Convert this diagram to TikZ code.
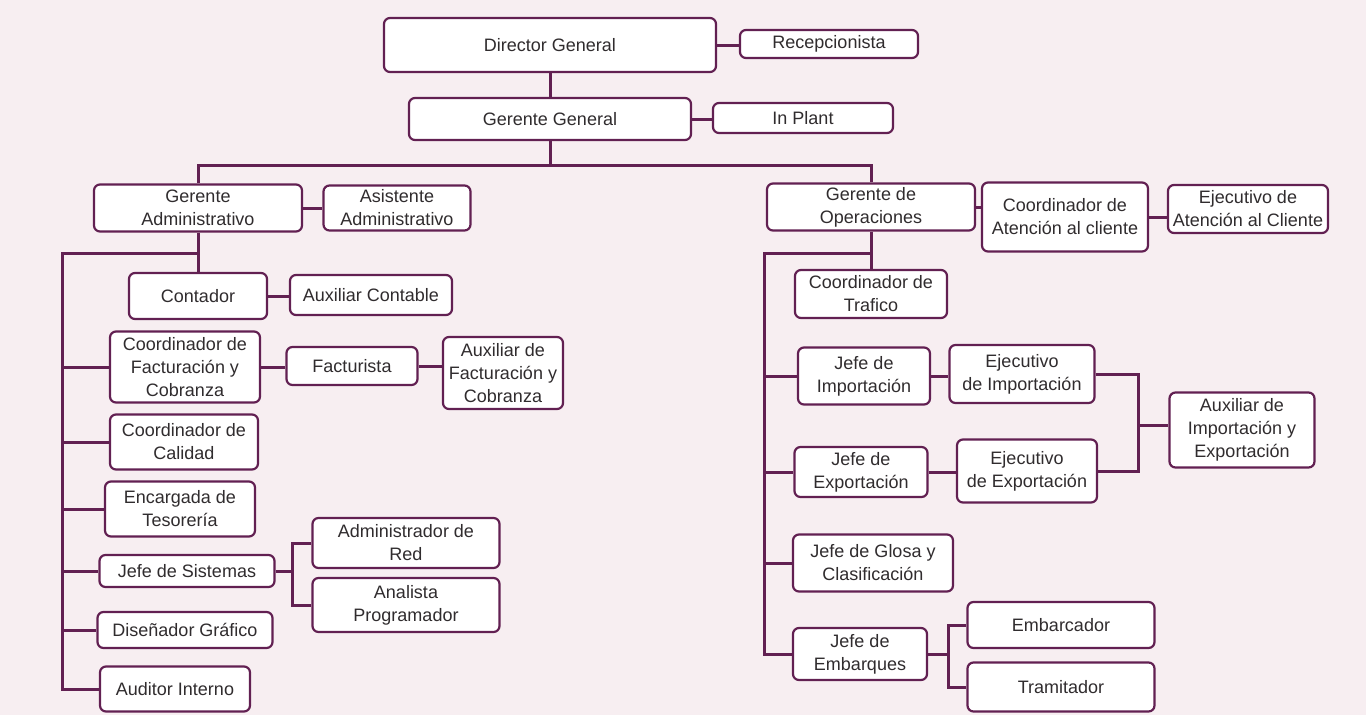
\documentclass[tikz,border=0pt]{standalone}
\usepackage{fontspec}
\setmainfont{Liberation Sans}
\usepackage{tikz}
\usetikzlibrary{positioning}

\definecolor{plum}{RGB}{98,32,82}
\definecolor{paper}{RGB}{247,238,241}
\definecolor{ink}{RGB}{48,44,46}

\begin{document}
\begin{tikzpicture}[x=1pt, y=-1pt,
  pbox/.style={draw=plum, line width=2.2pt, rounded corners=6pt, fill=white,
    align=center, text=ink, inner sep=2pt,
    font=\fontsize{18}{23}\selectfont},
  link/.style={draw=plum, line width=3pt},
]
  % Page background
  \fill[paper] (0,0) rectangle (1366,715);
  \useasboundingbox (0,0) rectangle (1366,715);

  % Boxes: name, centre x, centre y, width, height, text.
  \foreach \n/\x/\y/\w/\h/\t in {
      dg/550/45/332/54/{Director General},
      rec/829/44/178/28/{Recepcionista},
      gg/550/119/282/42/{Gerente General},
      inp/803/118/180/30/{In Plant},
      gadm/198/208/208/47/{Gerente\\Administrativo},
      asis/397/208/147/45/{Asistente\\Administrativo},
      gop/871/207/208/47/{Gerente de\\Operaciones},
      catc/1065/217/166/69/{Coordinador de\\Atención al cliente},
      eatc/1248/209/160/48/{Ejecutivo de\\Atención al Cliente},
      cont/198/296/138/46/{Contador},
      auxc/371/295/162/40/{Auxiliar Contable},
      cfac/185/367/150/71/{Coordinador de\\Facturación y\\Cobranza},
      fact/352/366/131/38/{Facturista},
      afac/503/373/120/72/{Auxiliar de\\Facturación y\\Cobranza},
      ccal/184/442/148/55/{Coordinador de\\Calidad},
      etes/180/509/150/55/{Encargada de\\Tesorería},
      jsis/187/571/175/32/{Jefe de Sistemas},
      ared/406/543/187/50/{Administrador de\\Red},
      apro/406/605/187/54/{Analista\\Programador},
      dgra/185/630/175/36/{Diseñador Gráfico},
      audi/175/689/150/45/{Auditor Interno},
      ctra/871/294/152/48/{Coordinador de\\Trafico},
      jimp/864/376/132/57/{Jefe de\\Importación},
      eimp/1022/374/145/58/{Ejecutivo\\de Importación},
      aiex/1242/430/145/75/{Auxiliar de\\Importación y\\Exportación},
      jexp/861/472/133/50/{Jefe de\\Exportación},
      eexp/1027/471/140/63/{Ejecutivo\\de Exportación},
      jglo/873/563/160/57/{Jefe de Glosa y\\Clasificación},
      jemb/860/654/134/52/{Jefe de\\Embarques},
      emba/1061/625/187/46/{Embarcador},
      tram/1061/687/187/49/{Tramitador}} {
    \node[pbox, minimum width=\w, minimum height=\h] (\n) at (\x,\y) {\t};
  }

  % Junction points
  \coordinate (bus) at (550,165);
  \coordinate (ltop) at (62,253);
  \coordinate (rtop) at (764,253);
  \coordinate (sisj) at (292,571);
  \coordinate (iej) at (1138,425);
  \coordinate (embj) at (948,654);

  % Top of the chart
  \draw[link] (dg.east) -- (dg.east -| rec.west);
  \draw[link] (dg.south) -- (gg.north);
  \draw[link] (gg.east) -- (gg.east -| inp.west);
  \draw[link] (gg.south) -- (bus);
  \draw[link] (gadm.north) |- (bus) -| (gop.north);
  \draw[link] (gadm.east) -- (gadm.east -| asis.west);
  \draw[link] (gop.east) -- (gop.east -| catc.west);
  \draw[link] (catc.east) -- (catc.east -| eatc.west);

  % Administration branch
  \draw[link] (gadm.south) -- (cont.north);
  \draw[link] (gadm.south |- ltop) -- (ltop) |- (audi.west);
  \foreach \c in {cfac, ccal, etes, jsis, dgra}
    \draw[link] (ltop |- \c.west) -- (\c.west);
  \draw[link] (cont.east) -- (cont.east -| auxc.west);
  \draw[link] (cfac.east) -- (cfac.east -| fact.west);
  \draw[link] (fact.east) -- (fact.east -| afac.west);
  \draw[link] (jsis.east) -- (sisj);
  \draw[link] (ared.west) -| (sisj) |- (apro.west);

  % Operations branch
  \draw[link] (gop.south) -- (ctra.north);
  \draw[link] (gop.south |- rtop) -- (rtop) |- (jemb.west);
  \foreach \c in {jimp, jexp, jglo}
    \draw[link] (rtop |- \c.west) -- (\c.west);
  \draw[link] (jimp.east) -- (jimp.east -| eimp.west);
  \draw[link] (jexp.east) -- (jexp.east -| eexp.west);
  \draw[link] (eimp.east) -| (iej) |- (eexp.east);
  \draw[link] (iej) -- (iej -| aiex.west);
  \draw[link] (jemb.east) -- (embj);
  \draw[link] (emba.west) -| (embj) |- (tram.west);
\end{tikzpicture}
\end{document}
